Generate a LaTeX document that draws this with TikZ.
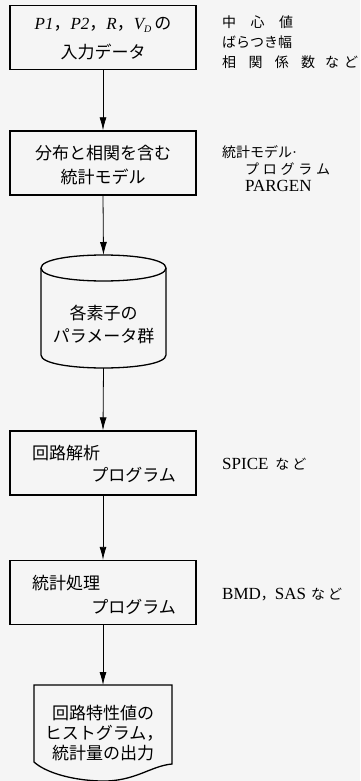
\documentclass[tikz,border=0pt]{standalone}
\usepackage{fontspec}
\setmainfont{Liberation Serif}
\newfontfamily\jp{Noto Sans CJK JP}
\usetikzlibrary{arrows.meta}
\begin{document}
\begin{tikzpicture}[x=1pt,y=-1pt,
  box/.style={draw, line width=1.3pt, minimum width=186pt, minimum height=64pt, inner sep=0pt},
  txt/.style={font=\jp\fontsize{17}{21}\selectfont, inner sep=0pt},
  side/.style={font=\fontsize{17}{20}\selectfont, inner sep=0pt, anchor=west},
  sidejp/.style={font=\jp\fontsize{14}{18}\selectfont, inner sep=0pt, anchor=west},
  shape line/.style={line width=1.3pt},
  arr/.style={-{Latex[length=13pt,width=7pt]}, line width=0.8pt}]
\useasboundingbox[fill=black!4] (0,0) rectangle (360,781);

% boxes
\node[box] (b1) at (103,37.5) {};
\node[box] (b2) at (103,163) {};
\node[box] (b3) at (103,463) {};
\node[box] (b4) at (103,592.5) {};

% cylinder
\coordinate (cyltop) at (103.5,255);
\coordinate (cylbot) at (103.5,368);
\draw[shape line] (41,268) .. controls (41,250.67) and (166,250.67) .. (166,268)
                            .. controls (166,285.33) and (41,285.33) .. (41,268);
\draw[shape line] (41,268) -- (41,355) .. controls (41,372.33) and (166,372.33) .. (166,355) -- (166,268);

% document shape
\coordinate (doctop) at (103,685);
\draw[shape line] (34,685) -- (172,685) -- (172,764)
   .. controls (150,766) and (135,782) .. (100,781)
   .. controls (70,780) and (45,772) .. (34,762) -- cycle;

% arrows
\draw[arr] (b1.south) -- (b2.north);
\draw[arr] (b2.south) -- (cyltop);
\draw[arr] (cylbot) -- (b3.north);
\draw[arr] (b3.south) -- (b4.north);
\draw[arr] (b4.south) -- (doctop);

% box texts
\node[txt, font=\fontsize{17}{21}\selectfont] (t1a) at (103,25)
  {\itshape P1{\upshape\jp ，}P2{\upshape\jp ，}R{\upshape\jp ，}V\raisebox{-0.35ex}{\fontsize{10}{10}\selectfont D}\hspace{3pt}{\upshape\jp の}};
\node[txt] (t1b) at (103,52) {入力データ};
\node[txt] (t2a) at (103,153) {分布と相関を含む};
\node[txt] (t2b) at (103,177) {統計モデル};
\node[txt] (c1) at (103.5,313) {各素子の};
\node[txt] (c2) at (103.5,336) {パラメータ群};
\node[txt, anchor=west] (t3a) at (32,453) {回路解析};
\node[txt, anchor=east] (t3b) at (176,475) {プログラム};
\node[txt, anchor=west] (t4a) at (32,583) {統計処理};
\node[txt, anchor=east] (t4b) at (176,607) {プログラム};
\node[txt] (d1) at (103,713) {回路特性値の};
\node[txt] (d2) at (104,733) {ヒストグラム，};
\node[txt] (d3) at (103,753) {統計量の出力};

% side texts
\node[sidejp] (s1) at (222,22) {\makebox[71pt][s]{中\hfill 心\hfill 値}};
\node[sidejp] (s2) at (222,42) {ばらつき幅};
\node[sidejp] (s3) at (222,62) {\makebox[93pt][s]{相\hfill 関\hfill 係\hfill 数}\hspace{10pt}な\hspace{5pt}ど};
\node[sidejp] (s4) at (222,152) {統計モデル{\rmfamily\fontsize{15}{16}\selectfont ·}};
\node[sidejp] (s5) at (245,169) {\makebox[85pt][s]{プ\hfill ロ\hfill グ\hfill ラ\hfill ム}};
\node[side] (s6) at (245,186) {PARGEN};
\node[side] (s7) at (222,464) {SPICE\hspace{7pt}{\jp\fontsize{14}{18}\selectfont な\hspace{3pt}ど}};
\node[side] (s8) at (222,595) {BMD{\jp\fontsize{14}{18}\selectfont ，}SAS\hspace{5pt}{\jp\fontsize{14}{18}\selectfont な\hspace{3pt}ど}};
\end{tikzpicture}
\end{document}
